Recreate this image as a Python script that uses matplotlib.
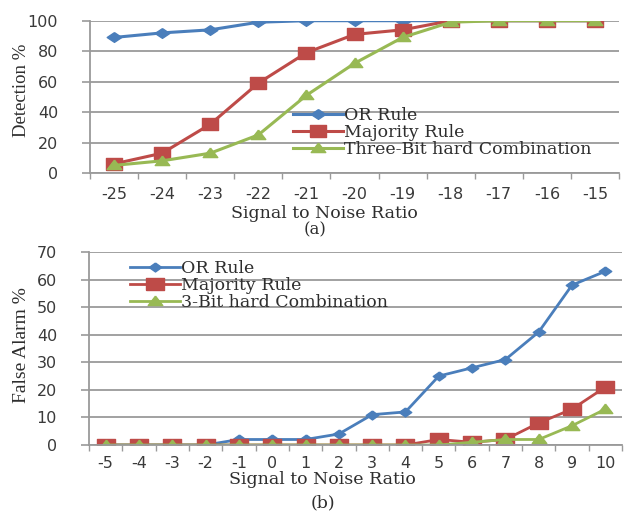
import numpy as np
import matplotlib
matplotlib.use("Agg")
import matplotlib.pyplot as plt
from matplotlib.path import Path

# data
snr_a = ["-25", "-24", "-23", "-22", "-21", "-20", "-19", "-18", "-17", "-16", "-15"]
or_a = [89, 92, 94, 99, 100, 100, 100, 100, 100, 100, 100]
maj_a = [6, 13, 32, 59, 79, 91, 94, 100, 100, 100, 100]
three_a = [5, 8, 13, 25, 51, 72, 89, 99, 100, 100, 100]

snr_b = ["-5", "-4", "-3", "-2", "-1", "0", "1", "2", "3", "4", "5", "6", "7", "8", "9", "10"]
or_b = [0, 0, 0, 0, 2, 2, 2, 4, 11, 12, 25, 28, 31, 41, 58, 63]
maj_b = [0, 0, 0, 0, 0, 0, 0, 0, 0, 0, 2, 1, 2, 8, 13, 21]
three_b = [0, 0, 0, 0, 0, 0, 0, 0, 0, 0, 0, 1, 2, 2, 7, 13]

W, H = 624, 513
BLUE, RED, GREEN = "#4A7EBB", "#BE4B48", "#98B954"
GRID = "#9a9a9a"
TXT = "#2e2e2e"


def box(l, t, r, b):
    return [l / W, 1 - b / H, (r - l) / W, (b - t) / H]


def wide(verts, sx):
    # markers in the picture look stretched sideways
    return Path([(x * sx, y) for x, y in verts])


diamond = [(0, 1), (1, 0), (0, -1), (-1, 0), (0, 1)]
square = [(-1, -1), (1, -1), (1, 1), (-1, 1), (-1, -1)]
tri = [(0, 1), (1, -0.75), (-1, -0.75), (0, 1)]


def style_axes(ax, labels, ymax, ystep, xpad):
    n = len(labels)
    ax.set_xlim(-0.5, n - 0.5)
    ax.set_ylim(0, ymax)
    ax.set_yticks(np.arange(0, ymax + 1, ystep))
    ax.set_xticks(np.arange(-0.5, n, 1.0))
    ax.set_xticklabels([])
    ax.set_xticks(np.arange(n), labels, minor=True)
    ax.tick_params(axis="x", which="major", length=4, width=1, color=GRID, direction="out")
    ax.tick_params(axis="x", which="minor", length=0, pad=xpad, labelsize=11.5, labelcolor="#3a3a3a")
    ax.tick_params(axis="y", length=6, width=1.2, color=GRID, pad=17, labelsize=11.5, labelcolor="#3a3a3a")
    ax.grid(axis="y", color=GRID, lw=1.3)
    ax.set_axisbelow(True)
    for s in ["top", "right"]:
        ax.spines[s].set_visible(False)
    for s in ["left", "bottom"]:
        ax.spines[s].set_color(GRID)
        ax.spines[s].set_linewidth(1.3)
    for lab in ax.get_xticklabels(minor=True) + ax.get_yticklabels():
        lab.set_family("DejaVu Sans")


fig = plt.figure(figsize=(W / 100, H / 100), dpi=100)

# (a) detection
ax1 = fig.add_axes(box(90, 20.7, 619, 173))
x = np.arange(len(snr_a))
ax1.plot(x, or_a, color=BLUE, lw=2.2, marker=wide(diamond, 1.5), ms=10.5, label="OR Rule")
ax1.plot(x, maj_a, color=RED, lw=2.2, marker=wide(square, 1.3), ms=11.5, label="Majority Rule")
ax1.plot(x, three_a, color=GREEN, lw=2.2, marker=wide(tri, 1.35), ms=10.5, label="Three-Bit hard Combination")
style_axes(ax1, snr_a, 100, 20, 10)
ax1.legend(loc="upper left", bbox_to_anchor=(293 / W, 1 - 107 / H), bbox_transform=fig.transFigure,
           frameon=False, borderpad=0, borderaxespad=0, handlelength=2.9, handletextpad=0.05,
           labelspacing=0.0, prop={"family": "DejaVu Serif", "size": 12.5}, labelcolor=TXT)

# (b) false alarm
ax2 = fig.add_axes(box(89, 252, 622, 445))
x = np.arange(len(snr_b))
ax2.plot(x, or_b, color=BLUE, lw=2.0, marker=wide(diamond, 1.4), ms=9, label="OR Rule")
ax2.plot(x, maj_b, color=RED, lw=2.0, marker=wide(square, 1.5), ms=13, label="Majority Rule")
ax2.plot(x, three_b, color=GREEN, lw=2.0, marker=wide(tri, 1.35), ms=10.5, label="3-Bit hard Combination")
style_axes(ax2, snr_b, 70, 10, 8)
ax2.legend(loc="upper left", bbox_to_anchor=(130 / W, 1 - 260 / H), bbox_transform=fig.transFigure,
           frameon=False, borderpad=0, borderaxespad=0, handlelength=2.9, handletextpad=0.05,
           labelspacing=0.0, prop={"family": "DejaVu Serif", "size": 12.5}, labelcolor=TXT)

# axis titles placed where the picture has them
fig.text(22 / W, 1 - 90 / H, "Detection %", rotation=90, ha="center", va="center",
         family="Liberation Serif", fontsize=13.5, color=TXT)
fig.text(22 / W, 1 - 345 / H, "False Alarm %", rotation=90, ha="center", va="center",
         family="Liberation Serif", fontsize=14, color=TXT)
fig.text(324 / W, 1 - 213 / H, "Signal to Noise Ratio", ha="center", va="center",
         family="DejaVu Serif", fontsize=12.5, color=TXT)
fig.text(315 / W, 1 - 230 / H, "(a)", ha="center", va="center",
         family="DejaVu Serif", fontsize=12, color=TXT)
fig.text(322 / W, 1 - 479 / H, "Signal to Noise Ratio", ha="center", va="center",
         family="DejaVu Serif", fontsize=12.5, color=TXT)
fig.text(323 / W, 1 - 503 / H, "(b)", ha="center", va="center",
         family="DejaVu Serif", fontsize=12.5, color=TXT)

fig.savefig("out.png", dpi=100)
